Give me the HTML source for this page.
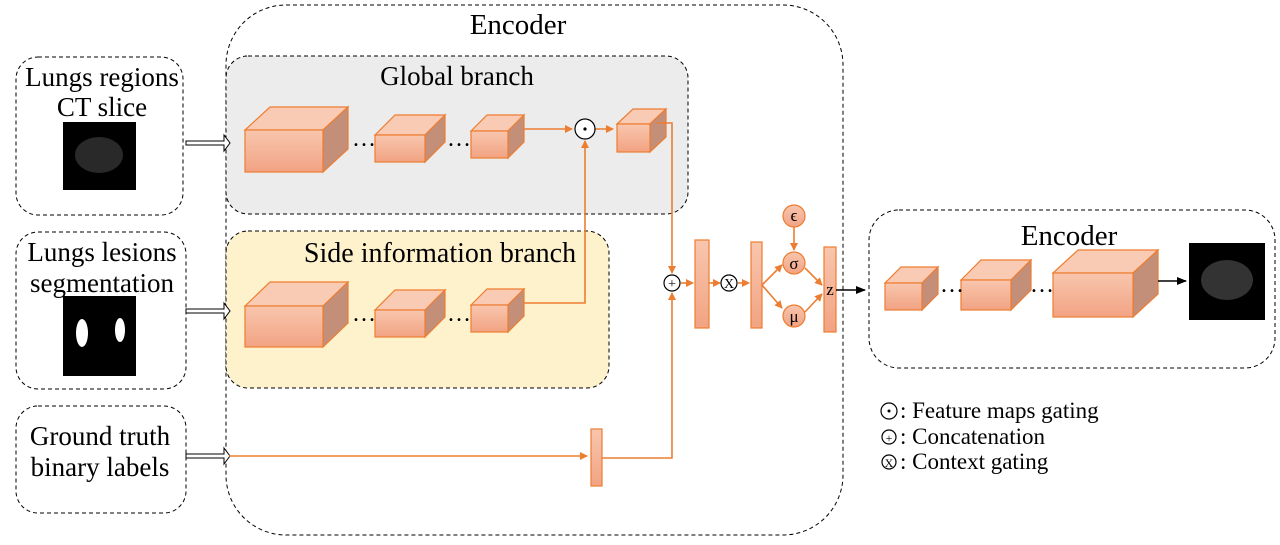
<!DOCTYPE html><html><head><style>body{margin:0;background:#fff}svg text{font-family:"Liberation Serif",serif}</style></head><body>
<svg width="1280" height="540" xmlns="http://www.w3.org/2000/svg">
<defs>
<linearGradient id="g" x1="0" y1="0" x2="0" y2="1"><stop offset="0" stop-color="#f8c6ae"/><stop offset="1" stop-color="#f2a383"/></linearGradient>
<marker id="a" markerWidth="8" markerHeight="8" refX="7" refY="4" orient="auto" markerUnits="userSpaceOnUse"><path d="M0,0 L8,4 L0,8z" fill="#ed7d31"/></marker>
<marker id="k" markerWidth="10" markerHeight="8" refX="9" refY="4" orient="auto" markerUnits="userSpaceOnUse"><path d="M0,0 L10,4 L0,8z" fill="#000"/></marker>
</defs>
<g fill="none" stroke="#000" stroke-dasharray="4,3" stroke-width="1">
<rect x="226" y="5" width="617" height="530" rx="60"/>
<rect x="226" y="56" width="462" height="158" rx="22" fill="#ececec"/>
<rect x="226" y="231" width="383" height="157" rx="22" fill="#fef2cd"/>
<rect x="16" y="57" width="167" height="158" rx="22"/>
<rect x="16" y="232" width="170" height="157" rx="22"/>
<rect x="16" y="406" width="170" height="107" rx="22"/>
<rect x="869" y="210" width="406" height="158" rx="30"/>
</g>
<g font-size="29" text-anchor="middle" fill="#000">
<text x="518" y="34">Encoder</text>
<text x="1069" y="245">Encoder</text>
<text x="457" y="85" font-size="27">Global branch</text>
<text x="440" y="262" font-size="28">Side information branch</text>
<text x="102" y="86" font-size="27">Lungs regions</text>
<text x="102" y="116" font-size="27">CT slice</text>
<text x="102" y="261" font-size="27">Lungs lesions</text>
<text x="102" y="292" font-size="27">segmentation</text>
<text x="100" y="445" font-size="27">Ground truth</text>
<text x="100" y="476" font-size="27">binary labels</text>
</g>
<rect x="63" y="122" width="73" height="68" fill="#000"/>
<ellipse cx="99" cy="155" rx="24" ry="18" fill="#444" opacity="0.6"/>
<rect x="63" y="296" width="73" height="80" fill="#000"/>
<ellipse cx="82" cy="333" rx="6" ry="14" fill="#fff"/><ellipse cx="120" cy="330" rx="5" ry="12" fill="#fff"/>
<rect x="1189" y="243" width="76" height="77" fill="#000"/>
<ellipse cx="1227" cy="280" rx="26" ry="20" fill="#555" opacity="0.6"/>
<g fill="#fff" stroke="#000" stroke-width="1">
<path d="M186,141 h38 v-6 l6,8 l-6,8 v-6 h-38z"/>
<path d="M186,309 h38 v-6 l6,8 l-6,8 v-6 h-38z"/>
<path d="M186,454 h38 v-6 l6,8 l-6,8 v-6 h-38z"/>
</g>
<g stroke="#ed7d31" stroke-width="1.2">
<path d="M245,130 l25,-23 h78 l-25,23z" fill="#f9cbb4"/><path d="M323,130 l25,-23 v42 l-25,23z" fill="#c38f79"/><rect x="245" y="130" width="78" height="42" fill="url(#g)"/>
<path d="M375,135 l20,-20 h50 l-20,20z" fill="#f9cbb4"/><path d="M425,135 l20,-20 v27 l-20,20z" fill="#c38f79"/><rect x="375" y="135" width="50" height="27" fill="url(#g)"/>
<path d="M471,131 l16,-16 h37 l-16,16z" fill="#f9cbb4"/><path d="M508,131 l16,-16 v27 l-16,16z" fill="#c38f79"/><rect x="471" y="131" width="37" height="27" fill="url(#g)"/>
<path d="M617,124 l16,-15 h33 l-16,15z" fill="#f9cbb4"/><path d="M650,124 l16,-15 v28 l-16,15z" fill="#c38f79"/><rect x="617" y="124" width="33" height="28" fill="url(#g)"/>
<path d="M245,306 l25,-24 h78 l-25,24z" fill="#f9cbb4"/><path d="M323,306 l25,-24 v41 l-25,24z" fill="#c38f79"/><rect x="245" y="306" width="78" height="41" fill="url(#g)"/>
<path d="M375,310 l20,-20 h50 l-20,20z" fill="#f9cbb4"/><path d="M425,310 l20,-20 v27 l-20,20z" fill="#c38f79"/><rect x="375" y="310" width="50" height="27" fill="url(#g)"/>
<path d="M471,305 l16,-16 h37 l-16,16z" fill="#f9cbb4"/><path d="M508,305 l16,-16 v27 l-16,16z" fill="#c38f79"/><rect x="471" y="305" width="37" height="27" fill="url(#g)"/>
<path d="M885,283 l16,-16 h37 l-16,16z" fill="#f9cbb4"/><path d="M922,283 l16,-16 v27 l-16,16z" fill="#c38f79"/><rect x="885" y="283" width="37" height="27" fill="url(#g)"/>
<path d="M961,280 l20,-20 h50 l-20,20z" fill="#f9cbb4"/><path d="M1011,280 l20,-20 v30 l-20,20z" fill="#c38f79"/><rect x="961" y="280" width="50" height="30" fill="url(#g)"/>
<path d="M1053,273 l25,-23 h80 l-25,23z" fill="#f9cbb4"/><path d="M1133,273 l25,-23 v44 l-25,23z" fill="#c38f79"/><rect x="1053" y="273" width="80" height="44" fill="url(#g)"/>
</g>
<g font-size="24"><text x="352" y="146">…</text><text x="447" y="146">…</text><text x="352" y="321">…</text><text x="447" y="321">…</text><text x="940" y="292">…</text><text x="1030" y="292">…</text></g>
<g stroke="#ed7d31" stroke-width="1.6" fill="none">
<path d="M524,129 H572" marker-end="url(#a)"/>
<path d="M595,129 H613" marker-end="url(#a)"/>
<path d="M524,303 H585 V141" marker-end="url(#a)"/>
<path d="M657,123 H672 V273" marker-end="url(#a)"/>
<path d="M229,456 H587" marker-end="url(#a)"/>
<path d="M602,458 H672 V293" marker-end="url(#a)"/>
<path d="M681,283 H693" marker-end="url(#a)"/>
<path d="M709,283 H720" marker-end="url(#a)"/>
<path d="M738,283 H749" marker-end="url(#a)"/>
<path d="M762,285 L782,265" marker-end="url(#a)"/>
<path d="M762,285 L782,308" marker-end="url(#a)"/>
<path d="M794,227 V250" marker-end="url(#a)"/>
<path d="M805,268 L822,285" marker-end="url(#a)"/>
<path d="M805,312 L822,294" marker-end="url(#a)"/>
</g>
<g fill="url(#g)" stroke="#ed7d31" stroke-width="1.2">
<rect x="695" y="240" width="14" height="88"/><rect x="751" y="242" width="11" height="86"/><rect x="824" y="247" width="12" height="85"/><rect x="591" y="429" width="11" height="57"/>
<circle cx="794" cy="216" r="11"/><circle cx="794" cy="263" r="11"/><circle cx="794" cy="316" r="11"/>
</g>
<g font-size="17" text-anchor="middle"><text x="794" y="221">ϵ</text><text x="794" y="269">σ</text><text x="794" y="322">μ</text><text x="830" y="295" font-family="Liberation Sans">z</text></g>
<path d="M836,290 H865" stroke="#000" stroke-width="1.6" marker-end="url(#k)"/>
<path d="M1158,281 H1186" stroke="#000" stroke-width="1.6" marker-end="url(#k)"/>
<g fill="#fff" stroke="#000" stroke-width="1.2">
<circle cx="585" cy="129" r="10"/><circle cx="672" cy="283" r="8"/><circle cx="729" cy="283" r="8"/>
<circle cx="889" cy="411" r="8"/><circle cx="889" cy="437" r="7"/><circle cx="889" cy="462" r="7"/>
</g>
<circle cx="585" cy="129" r="1.6"/><circle cx="889" cy="411" r="1.5"/>
<g font-size="14" text-anchor="middle" font-family="Liberation Sans"><text x="672" y="288">+</text><text x="729" y="288">X</text><text x="889" y="442" font-size="12">+</text><text x="889" y="467" font-size="12">X</text></g>
<g font-size="23"><text x="900" y="418">: Feature maps gating</text><text x="900" y="444">: Concatenation</text><text x="900" y="469">: Context gating</text></g>
</svg></body></html>
